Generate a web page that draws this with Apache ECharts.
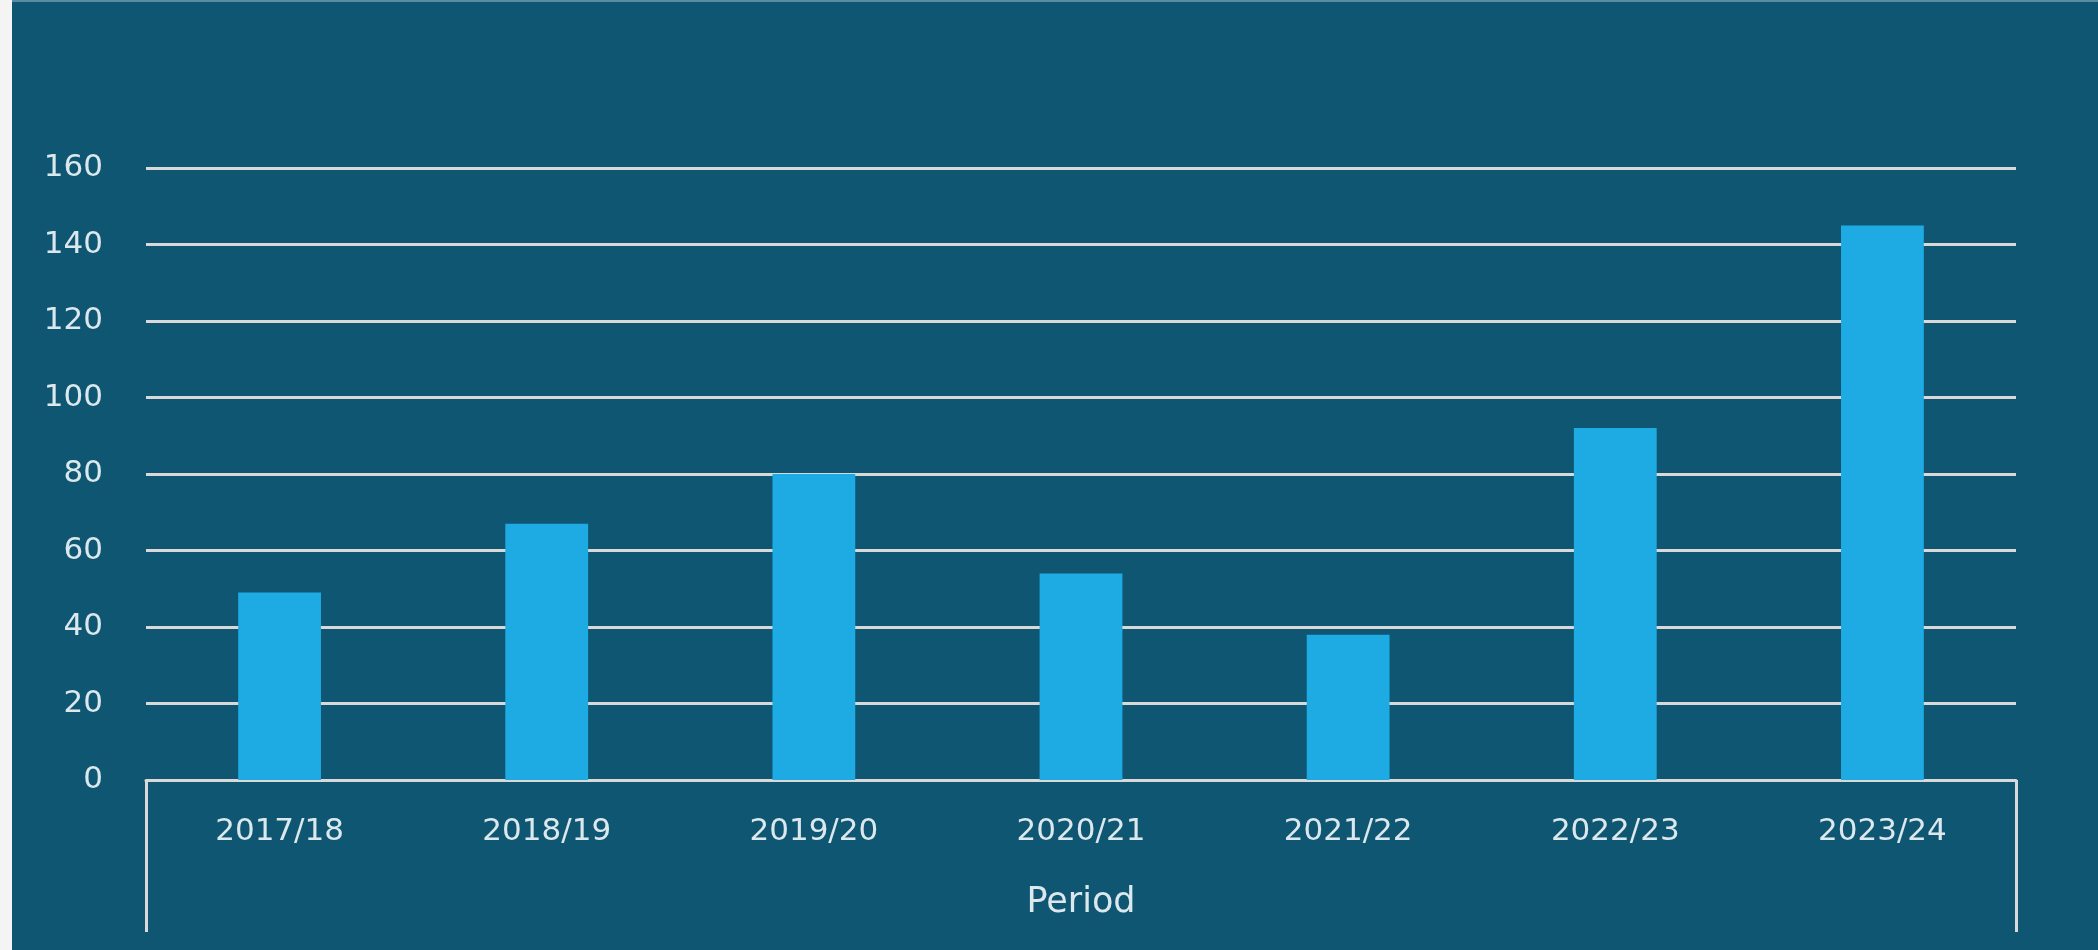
<!DOCTYPE html>
<html>
<head>
<meta charset="utf-8">
<script src="https://cdn.jsdelivr.net/npm/echarts@6/dist/echarts.min.js"></script>
<style>
  html, body { margin: 0; padding: 0; background: #f4f4f4; }
  #chart {
    position: absolute; left: 12px; top: 0;
    width: 2086px; height: 948px;
    border-top: 2px solid #5a8ba1;
    background: #0f5672;
  }
</style>
</head>
<body>
<div id="chart"></div>
<script>
// Annual totals per reporting period
const periods = ['2017/18', '2018/19', '2019/20', '2020/21', '2021/22', '2022/23', '2023/24'];
const values = [49, 67, 80, 54, 38, 92, 145];
const axisName = 'Period';

const textColor = '#dbe8ed';
const lineColor = '#d9d9d9';
const fontFamily = '"DejaVu Sans", sans-serif';

const chart = echarts.init(document.getElementById('chart'), null, { renderer: 'canvas' });
chart.setOption({
  animation: false,
  backgroundColor: '#0f5672',
  grid: { left: 134, right: 82, top: 166, bottom: 170, containLabel: false },
  xAxis: {
    type: 'category',
    data: periods,
    boundaryGap: true,
    name: axisName,
    nameLocation: 'middle',
    nameGap: 105,
    nameTextStyle: { color: textColor, fontSize: 35, fontFamily: fontFamily },
    axisLine: { show: true, lineStyle: { color: lineColor, width: 3 } },
    axisTick: {
      show: true,
      length: 152,
      interval: function (i) { return i === 0; },
      lineStyle: { color: lineColor, width: 3 }
    },
    axisLabel: {
      color: textColor, fontSize: 31, fontFamily: fontFamily,
      margin: 36, interval: 0
    },
    splitLine: { show: false }
  },
  yAxis: {
    type: 'value',
    min: 0, max: 160, interval: 20,
    axisLine: { show: false },
    axisTick: { show: false },
    axisLabel: {
      color: textColor, fontSize: 31, fontFamily: fontFamily,
      margin: 43, padding: [0, 0, 14, 0]
    },
    splitLine: { show: true, lineStyle: { color: lineColor, width: 3 } }
  },
  series: [{
    type: 'bar',
    data: values,
    barWidth: '31%',
    itemStyle: { color: '#1eabe3' }
  }]
});
</script>
</body>
</html>
